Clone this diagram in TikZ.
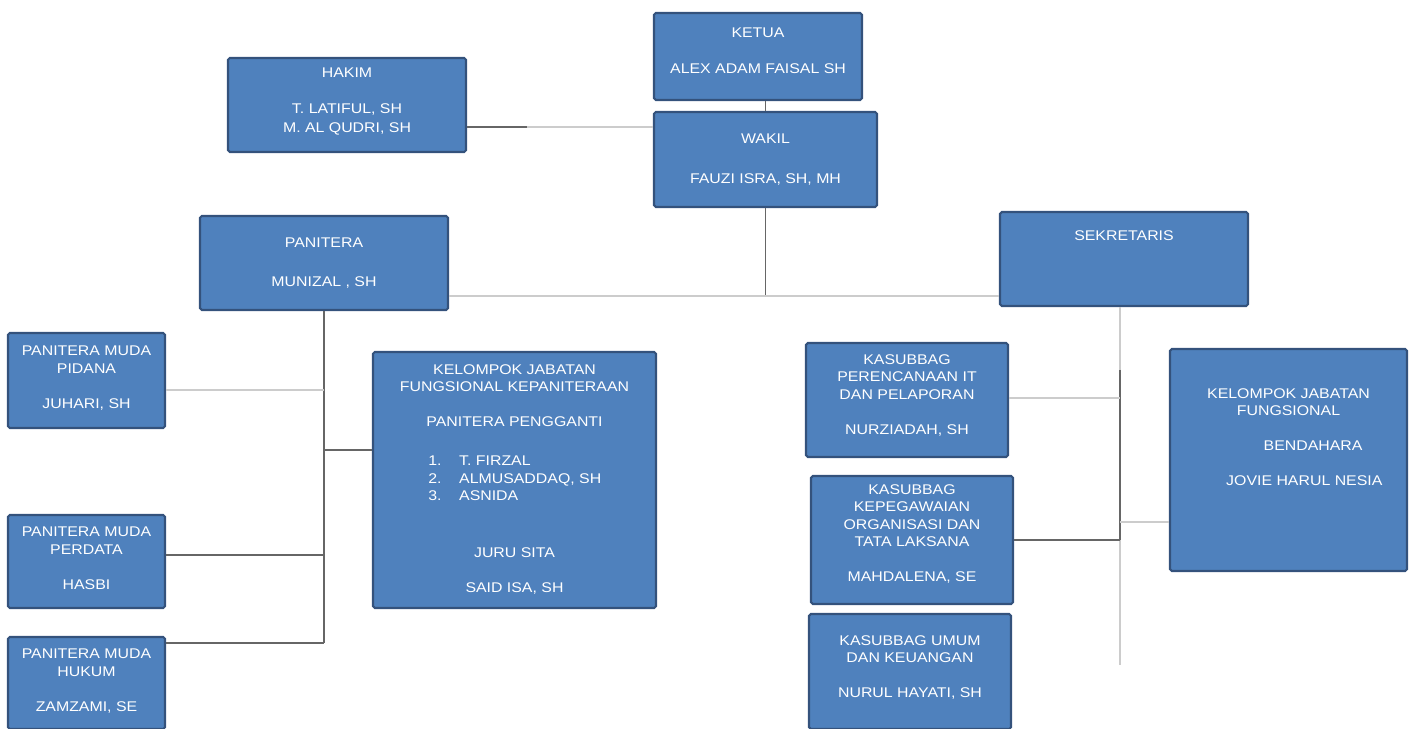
\documentclass[tikz,border=0pt]{standalone}
\usepackage{fontspec}
\setmainfont{Liberation Sans}[FakeStretch=1.13]
\usetikzlibrary{positioning,fit}
\definecolor{orgblue}{RGB}{79,129,189}
\definecolor{orgedge}{RGB}{52,82,124}
\tikzstyle{unit}=[draw=orgedge,line width=1.2pt,fill=orgblue,inner sep=0pt,rounded corners=1pt]
\tikzstyle{lbl}=[text=white,align=center,inner sep=0pt,font=\fontsize{8}{10}\selectfont]
\tikzstyle{link}=[draw=black!60,line width=0.7pt]
\tikzstyle{linkpale}=[draw=black!20,line width=0.7pt]

\begin{document}
\begin{tikzpicture}[x=0.02cm,y=-0.02cm]
  \useasboundingbox (0,0) rectangle (1411,729);
  % boxes, in pixel corners
  \foreach \bx/\xa/\ya/\xb/\yb in {
    ketua/654/13/862/100,
    wakil/654/112/877/207,
    hakim/228/58/466/152,
    panitera/200/216/448/310,
    sekretaris/1000/212/1248/306,
    pidana/8/333/165/428,
    perdata/8/515/165/608,
    hukum/8/637/165/729,
    kpk/373/352/656/608,
    rencana/806/343/1008/457,
    pegawai/811/476/1013/604,
    umum/809/614/1011/729,
    fungsional/1170/349/1407/571}
  {
    \node[unit,fit={(\xa,\ya) (\xb,\yb)}] (\bx) {};
  }
  % texts
  \node[lbl,below=0.32cm of ketua.north] (ketuatxt) {KETUA\\[10pt]ALEX ADAM FAISAL SH};
  \node[lbl,below=0.22cm of hakim.north] (hakimtxt) {HAKIM\\[10pt]T. LATIFUL, SH\\[1.3pt]M. AL QUDRI, SH};
  \node[lbl,below=0.46cm of wakil.north] (wakiltxt) {WAKIL\\[12.5pt]FAUZI ISRA, SH, MH};
  \node[lbl,below=0.46cm of panitera.north] (paniteratxt) {PANITERA\\[12pt]MUNIZAL , SH};
  \node[lbl,below=0.38cm of sekretaris.north] (sekretaristxt) {SEKRETARIS};
  \node[lbl,below=0.28cm of pidana.north] (pidanatxt) {PANITERA MUDA\\PIDANA\\[10pt]JUHARI, SH};
  \node[lbl,below=0.26cm of perdata.north] (perdatatxt) {PANITERA MUDA\\PERDATA\\[10pt]HASBI};
  \node[lbl,below=0.26cm of hukum.north] (hukumtxt) {PANITERA MUDA\\HUKUM\\[10pt]ZAMZAMI, SE};
  \node[lbl,below=0.26cm of kpk.north] (kpktxt) {KELOMPOK JABATAN\\FUNGSIONAL KEPANITERAAN\\[10pt]PANITERA PENGGANTI};
  \node[lbl,align=left,anchor=north west] (kplist) at (428,453)
    {\begin{tabular}{@{}l@{\hspace{10pt}}l@{}}
      1. & T. FIRZAL\\
      2. & ALMUSADDAQ, SH\\
      3. & ASNIDA
    \end{tabular}};
  \node[lbl,anchor=north] (kpfoot) at (kpk.north |- 0,547) {JURU SITA\\[10pt]SAID ISA, SH};
  \node[lbl,below=0.24cm of rencana.north] (rencanatxt) {KASUBBAG\\PERENCANAAN IT\\DAN PELAPORAN\\[10pt]NURZIADAH, SH};
  \node[lbl,below=0.18cm of pegawai.north] (pegawaitxt) {KASUBBAG\\KEPEGAWAIAN\\ORGANISASI DAN\\TATA LAKSANA\\[10pt]MAHDALENA, SE};
  \node[lbl,below=0.44cm of umum.north] (umumtxt) {KASUBBAG UMUM\\DAN KEUANGAN\\[10pt]NURUL HAYATI, SH};
  \node[lbl,below=0.8cm of fungsional.north] (fungsionaltxt) {KELOMPOK JABATAN\\FUNGSIONAL\\[10pt]\hspace{28pt}BENDAHARA\\[10pt]\hspace{18pt}JOVIE HARUL NESIA};
  % connectors
  \coordinate (hub) at (wakil.south |- 0,296);
  \coordinate (ptbus) at (panitera.south |- 0,643);
  \coordinate (skbus) at (1120,665);
  \draw[link] (wakil.north |- ketua.south) -- (wakil.north);
  \draw[linkpale] (hakim.east |- 0,127) -- (wakil.west |- 0,127);
  \draw[link] (hakim.east |- 0,127) -- +(60,0);
  \draw[link] (wakil.south) -- (hub);
  \draw[linkpale] (panitera.east |- hub) -- (sekretaris.west |- hub);
  \draw[link] (panitera.south) -- (ptbus);
  \draw[linkpale] (pidana.east |- 0,390) -- (ptbus |- 0,390);
  \foreach \nd/\yy in {perdata/555,hukum/643}
    \draw[link] (\nd.east |- 0,\yy) -- (ptbus |- 0,\yy);
  \draw[link] (ptbus |- 0,450) -- (kpk.west |- 0,450);
  \draw[linkpale] (sekretaris.south -| skbus) -- (skbus);
  \draw[link] (skbus |- 0,370) -- (skbus |- 0,540);
  \draw[linkpale] (rencana.east |- 0,398) -- (skbus |- 0,398);
  \draw[link] (pegawai.east |- 0,540) -- (skbus |- 0,540);
  \draw[linkpale] (skbus |- 0,522) -- (fungsional.west |- 0,522);
\end{tikzpicture}
\end{document}
